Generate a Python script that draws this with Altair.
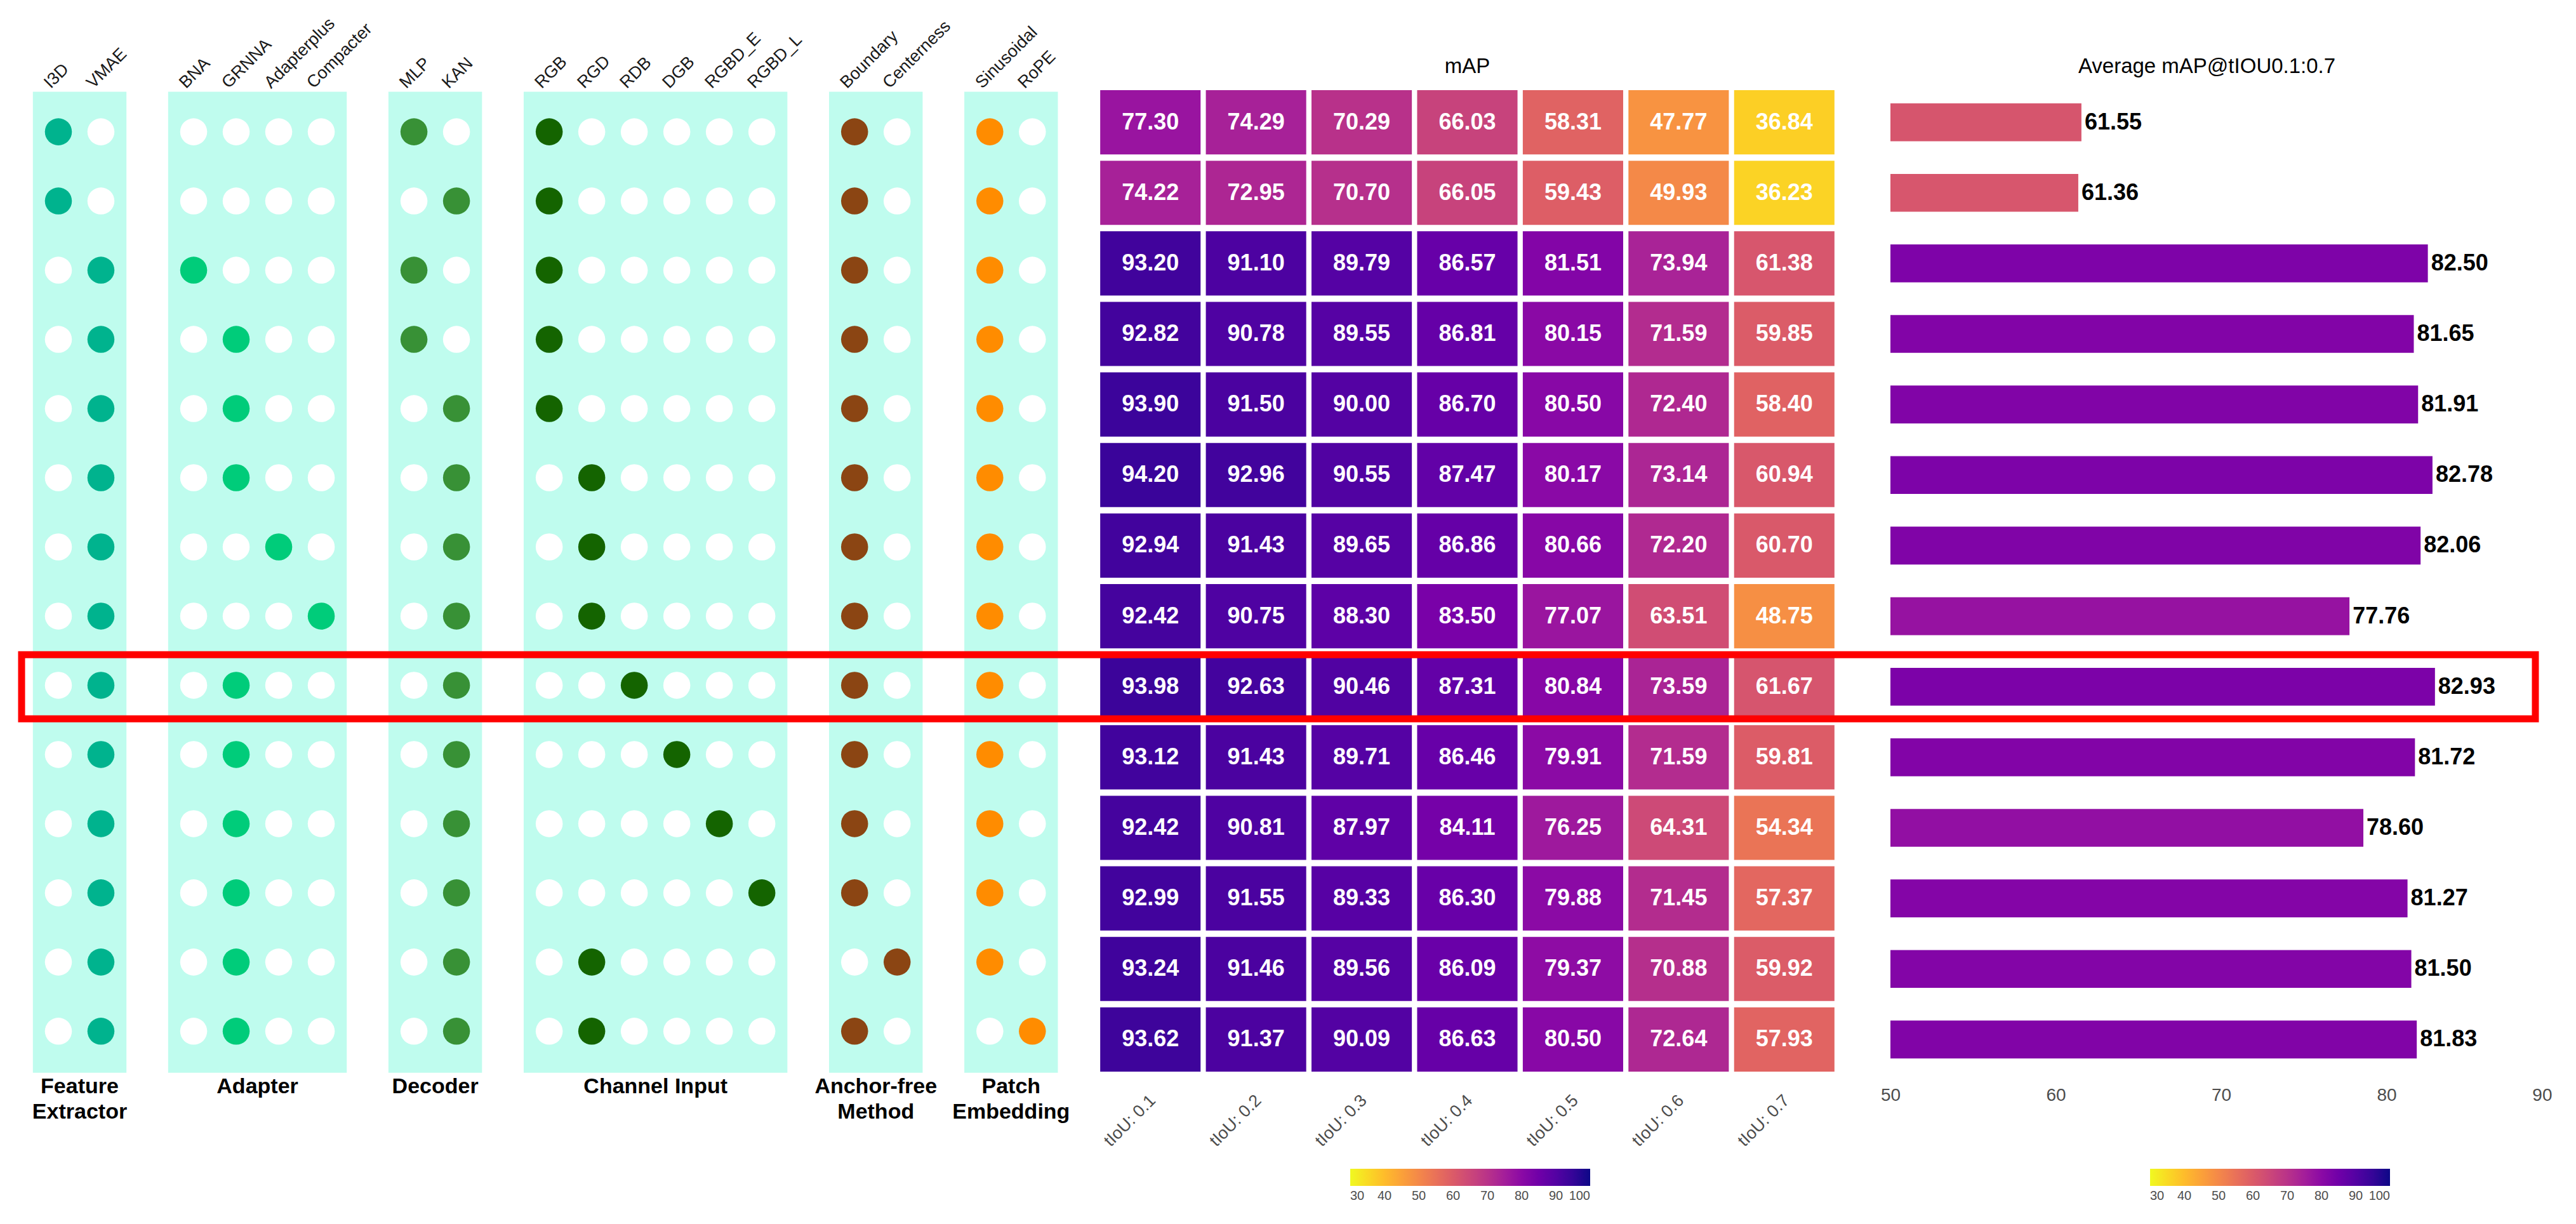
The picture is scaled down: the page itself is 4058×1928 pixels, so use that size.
import altair as alt
import pandas as pd

# ---------------- data ----------------
group_keys = ["Feature Extractor", "Adapter", "Decoder", "Channel Input", "Anchor-free Method", "Patch Embedding"]
group_labels = ["Feature\nExtractor", "Adapter", "Decoder", "Channel Input", "Anchor-free\nMethod", "Patch\nEmbedding"]
group_members = [
    ["I3D", "VMAE"],
    ["BNA", "GRNNA", "Adapterplus", "Compacter"],
    ["MLP", "KAN"],
    ["RGB", "RGD", "RDB", "DGB", "RGBD_E", "RGBD_L"],
    ["Boundary", "Centerness"],
    ["Sinusoidal", "RoPE"],
]
group_colors = ["#00B38E", "#00CC7A", "#389136", "#146400", "#8B4513", "#FF8C00"]

selected_rows = [
    ["I3D", "MLP", "RGB", "Boundary", "Sinusoidal"],
    ["I3D", "KAN", "RGB", "Boundary", "Sinusoidal"],
    ["VMAE", "BNA", "MLP", "RGB", "Boundary", "Sinusoidal"],
    ["VMAE", "GRNNA", "MLP", "RGB", "Boundary", "Sinusoidal"],
    ["VMAE", "GRNNA", "KAN", "RGB", "Boundary", "Sinusoidal"],
    ["VMAE", "GRNNA", "KAN", "RGD", "Boundary", "Sinusoidal"],
    ["VMAE", "Adapterplus", "KAN", "RGD", "Boundary", "Sinusoidal"],
    ["VMAE", "Compacter", "KAN", "RGD", "Boundary", "Sinusoidal"],
    ["VMAE", "GRNNA", "KAN", "RDB", "Boundary", "Sinusoidal"],
    ["VMAE", "GRNNA", "KAN", "DGB", "Boundary", "Sinusoidal"],
    ["VMAE", "GRNNA", "KAN", "RGBD_E", "Boundary", "Sinusoidal"],
    ["VMAE", "GRNNA", "KAN", "RGBD_L", "Boundary", "Sinusoidal"],
    ["VMAE", "GRNNA", "KAN", "RGD", "Centerness", "Sinusoidal"],
    ["VMAE", "GRNNA", "KAN", "RGD", "Boundary", "RoPE"],
]

thresholds = ["tIoU: 0.1", "tIoU: 0.2", "tIoU: 0.3", "tIoU: 0.4", "tIoU: 0.5", "tIoU: 0.6", "tIoU: 0.7"]
map_values = [
    [77.30, 74.29, 70.29, 66.03, 58.31, 47.77, 36.84],
    [74.22, 72.95, 70.70, 66.05, 59.43, 49.93, 36.23],
    [93.20, 91.10, 89.79, 86.57, 81.51, 73.94, 61.38],
    [92.82, 90.78, 89.55, 86.81, 80.15, 71.59, 59.85],
    [93.90, 91.50, 90.00, 86.70, 80.50, 72.40, 58.40],
    [94.20, 92.96, 90.55, 87.47, 80.17, 73.14, 60.94],
    [92.94, 91.43, 89.65, 86.86, 80.66, 72.20, 60.70],
    [92.42, 90.75, 88.30, 83.50, 77.07, 63.51, 48.75],
    [93.98, 92.63, 90.46, 87.31, 80.84, 73.59, 61.67],
    [93.12, 91.43, 89.71, 86.46, 79.91, 71.59, 59.81],
    [92.42, 90.81, 87.97, 84.11, 76.25, 64.31, 54.34],
    [92.99, 91.55, 89.33, 86.30, 79.88, 71.45, 57.37],
    [93.24, 91.46, 89.56, 86.09, 79.37, 70.88, 59.92],
    [93.62, 91.37, 90.09, 86.63, 80.50, 72.64, 57.93],
]
avg_map = [61.55, 61.36, 82.50, 81.65, 81.91, 82.78, 82.06, 77.76, 82.93, 81.72, 78.60, 81.27, 81.50, 81.83]
highlight_row = 9
legend_ticks = [30, 40, 50, 60, 70, 80, 90, 100]
bar_ticks = [50, 60, 70, 80, 90]

# ---------------- layout constants ----------------
COL_STEP = 67.0
GROUP_GAP = 2.18
H = 1556
X_MIN, X_MAX = -0.955, 24.0
W1 = round((X_MAX - X_MIN) * COL_STEP)
Y_TOP, Y_BOT = 0.352, 14.63
W2 = 1165
SPACING = 29
BAR_PX_PER_UNIT = 26.05
BAR_EXTRA = 55                      # extra room on the left of the bar panel
BAR_MIN = 50 - BAR_EXTRA / BAR_PX_PER_UNIT
W3 = round((90 - BAR_MIN) * BAR_PX_PER_UNIT)
FONT = "Liberation Sans"
DOT_SIZE = 1810
BG_PAD = 0.6
LEFT0 = 28
LEGEND_Y = 1704

# ---------------- tables ----------------
positions = {}
p = 0.0
for members in group_members:
    for m in members:
        positions[m] = p
        p += 1.0
    p += GROUP_GAP - 1.0

cols_df = pd.DataFrame({"name": list(positions.keys()), "pos": list(positions.values())})

dot_recs = []
for r, sel in enumerate(selected_rows, start=1):
    for gk, members in zip(group_keys, group_members):
        for m in members:
            dot_recs.append({"row": r, "pos": positions[m], "group": gk, "sel": m in sel})
dots_df = pd.DataFrame(dot_recs)
on_df = dots_df[dots_df["sel"]].drop(columns="sel")
off_df = dots_df[~dots_df["sel"]].drop(columns="sel")

bg_df = pd.DataFrame({
    "group": group_keys,
    "x0": [positions[m[0]] - BG_PAD for m in group_members],
    "x1": [positions[m[-1]] + BG_PAD for m in group_members],
    "y0": [0.42] * len(group_keys),
    "y1": [14.6] * len(group_keys),
})
glab_df = pd.DataFrame({
    "label": group_labels,
    "xc": [(positions[m[0]] + positions[m[-1]]) / 2 for m in group_members],
})

heat_df = pd.DataFrame([
    {"row": r, "thr": t, "v": v}
    for r, vals in enumerate(map_values, start=1)
    for t, v in zip(thresholds, vals)
])
bar_df = pd.DataFrame({"row": list(range(1, len(avg_map) + 1)), "avg": avg_map})
hl_df = pd.DataFrame({"row": [highlight_row]})

# ---------------- dot matrix panel ----------------
xs = alt.Scale(domain=[X_MIN, X_MAX], nice=False, zero=False)
ys = alt.Scale(domain=[Y_TOP, Y_BOT], nice=False, zero=False, reverse=True)

bg = alt.Chart(bg_df).mark_rect(color="#BFFCEE").encode(
    x=alt.X("x0:Q", scale=xs, axis=None), x2="x1:Q",
    y=alt.Y("y0:Q", scale=ys, axis=None), y2="y1:Q",
)
off = alt.Chart(off_df).mark_circle(size=DOT_SIZE, opacity=1, color="white").encode(
    x=alt.X("pos:Q", scale=xs, axis=None),
    y=alt.Y("row:Q", scale=ys, axis=None),
)
on = alt.Chart(on_df).mark_circle(size=DOT_SIZE, opacity=1).encode(
    x=alt.X("pos:Q", scale=xs, axis=None),
    y=alt.Y("row:Q", scale=ys, axis=None),
    color=alt.Color("group:N", scale=alt.Scale(domain=group_keys, range=group_colors), legend=None),
)
hdr = alt.Chart(cols_df).mark_text(
    angle=315, align="left", baseline="bottom", fontSize=27, dx=-11, color="#1a1a1a", font=FONT
).encode(
    x=alt.X("pos:Q", scale=xs, axis=None), y=alt.value(0), text="name:N"
)
glab = alt.Chart(glab_df).mark_text(
    align="center", baseline="top", fontSize=34, fontWeight="bold", lineBreak="\n",
    lineHeight=40, color="black", font=FONT
).encode(
    x=alt.X("xc:Q", scale=xs, axis=None), y=alt.value(H + 2), text="label:N"
)
dots = alt.layer(bg, off, on, hdr, glab).properties(width=W1, height=H)

# ---------------- heatmap panel ----------------
band_y = alt.Scale(paddingInner=0.09, paddingOuter=0.045)
color_scale = alt.Scale(scheme="plasma", reverse=True, domain=[30, 100])


def legend(lx):
    return alt.Legend(
        orient="none", legendX=lx, legendY=LEGEND_Y, direction="horizontal",
        gradientLength=378, gradientThickness=27, title=None, values=legend_ticks,
        labelFontSize=20, labelColor="#4d4d4d", labelOffset=6, gradientStrokeWidth=0,
        labelFont=FONT,
    )


hx = alt.X(
    "thr:N", sort=thresholds,
    scale=alt.Scale(paddingInner=0.05, paddingOuter=0.025),
    axis=alt.Axis(
        title=None, orient="bottom", labelAngle=315, labelAlign="right", labelBaseline="middle",
        domain=False, ticks=False, labelFontSize=27, labelColor="#4d4d4d", labelPadding=36,
        labelOffset=4, labelFont=FONT,
    ),
)
cells = alt.Chart(heat_df).mark_rect().encode(
    x=hx,
    y=alt.Y("row:O", scale=band_y, axis=None),
    color=alt.Color("v:Q", scale=color_scale, legend=legend(398)),
)
cell_txt = alt.Chart(heat_df).mark_text(
    color="white", fontSize=36, fontWeight="bold", font=FONT
).encode(
    x=alt.X("thr:N", sort=thresholds),
    y=alt.Y("row:O"),
    text=alt.Text("v:Q", format=".2f"),
)
heat = alt.layer(cells, cell_txt).properties(
    width=W2, height=H,
    title=alt.TitleParams("mAP", fontSize=33, fontWeight="normal", color="black",
                          offset=15, anchor="middle", font=FONT),
)

# ---------------- bar panel ----------------
bx = alt.Scale(domain=[BAR_MIN, 90], nice=False, zero=False)
bars = alt.Chart(bar_df).mark_bar(height=alt.RelativeBandSize(band=0.59)).encode(
    x=alt.X("avg:Q", scale=bx, axis=alt.Axis(
        values=bar_ticks, title=None, domain=False, ticks=False, grid=False,
        labelFontSize=28, labelColor="#4d4d4d", labelPadding=18, labelFont=FONT)),
    x2=alt.datum(50),
    y=alt.Y("row:O", scale=band_y, axis=None),
    color=alt.Color("avg:Q", scale=color_scale, legend=legend(409 + BAR_EXTRA)),
)
bar_txt = alt.Chart(bar_df).mark_text(
    align="left", baseline="middle", dx=5, fontSize=36, fontWeight="bold", color="black", font=FONT
).encode(
    x=alt.X("avg:Q", scale=bx),
    y=alt.Y("row:O", scale=band_y),
    text=alt.Text("avg:Q", format=".2f"),
)
# highlight box spanning all three panels (pixel extents derived from the layout above)
bar_origin = LEFT0 + W1 + SPACING + W2 + SPACING
hl = alt.Chart(hl_df).mark_rect(fillOpacity=0, stroke="#FF0000", strokeWidth=11).encode(
    x=alt.value(34 - bar_origin), x2=alt.value(3994 - bar_origin),
    y=alt.Y("row:O", scale=band_y),
)
barp = alt.layer(bars, bar_txt, hl).properties(
    width=W3, height=H,
    title=alt.TitleParams("Average mAP@tIOU0.1:0.7", fontSize=33, fontWeight="normal",
                          color="black", offset=15, anchor="middle", dx=5, font=FONT),
)

chart = alt.hconcat(dots, heat, barp, spacing=SPACING, bounds="flush").resolve_scale(
    color="independent", x="independent", y="independent"
).resolve_legend(color="independent").properties(
    padding={"left": 20, "top": 15, "right": 5, "bottom": 0}
).configure(
    font=FONT, view=alt.ViewConfig(stroke="transparent", strokeWidth=0)
)

chart.save("out.html", embed_options={"renderer": "svg", "actions": False})
